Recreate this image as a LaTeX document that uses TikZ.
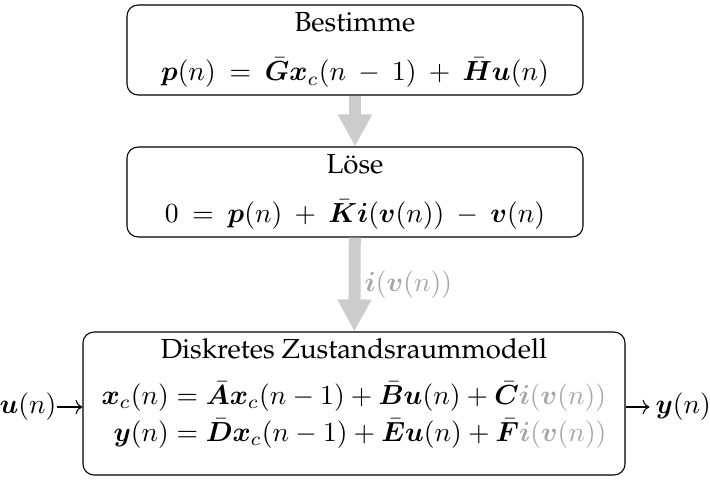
\documentclass[tikz,border=0pt]{standalone}
\usepackage[T1]{fontenc}
\usepackage{palatino}
\usepackage{amsmath,bm}
\usetikzlibrary{arrows.meta,positioning}

\definecolor{flowgray}{gray}{0.8}
\definecolor{lblgray}{gray}{0.65}

\begin{document}
\begin{tikzpicture}[
    x=0.3623pt, y=-0.3623pt,
    block/.style={draw, rectangle, rounded corners, align=center, inner sep=0pt},
    flow/.style={-{Triangle[length=11.6pt,width=11.6pt]}, line width=4.35pt, flowgray},
    wide/.style={execute at begin node={\thickmuskip=9mu plus 2mu\medmuskip=8mu plus 2mu}}
]
    \useasboundingbox (0,0) rectangle (710,480);

    % Blocks
    \node[block, wide, minimum width=165.2pt, minimum height=32.6pt] (Bestimme) at (355,50)
        {Bestimme\\[6pt]
         $\bm{p}(n) = \bar{\bm{G}}\bm{x}_c(n-1) + \bar{\bm{H}}\bm{u}(n)$};
    \node[block, wide, minimum width=165.2pt, minimum height=32.6pt] (Loese) at (355,192)
        {L\"ose\\[6pt]
         $0 = \bm{p}(n) + \bar{\bm{K}}\bm{i}(\bm{v}(n)) - \bm{v}(n)$};
    \node[block, minimum width=196.4pt, minimum height=51.8pt] (Modell) at (354,403.5)
        {Diskretes Zustandsraummodell\\[7pt]
         $\begin{array}{@{}r@{}l@{}}
            \bm{x}_c(n) &{}= \bar{\bm{A}}\bm{x}_c(n-1) + \bar{\bm{B}}\bm{u}(n) + \bar{\bm{C}}{\color{lblgray}\bm{i}(\bm{v}(n))}\\[1.5pt]
            \bm{y}(n) &{}= \bar{\bm{D}}\bm{x}_c(n-1) + \bar{\bm{E}}\bm{u}(n) + \bar{\bm{F}}{\color{lblgray}\bm{i}(\bm{v}(n))}
          \end{array}$\rule[-16.5pt]{0pt}{0pt}};

    % Signals
    \node[inner sep=0pt, anchor=east] (un) at (57,407) {$\bm{u}(n)$};
    \node[inner sep=0pt, anchor=west] (yn) at (655,407) {$\bm{y}(n)$};

    % Arrows
    \draw[flow] (Bestimme) -- (Loese);
    \draw[flow] (Loese) -- node[right, inner sep=1.5pt, text=lblgray] {$\bm{i}(\bm{v}(n))$} (Modell);
    \draw[->] (un) -- (un -| Modell.west);
    \draw[->] (Modell.east |- yn) -- ([xshift=-2pt]yn.west);
\end{tikzpicture}
\end{document}
